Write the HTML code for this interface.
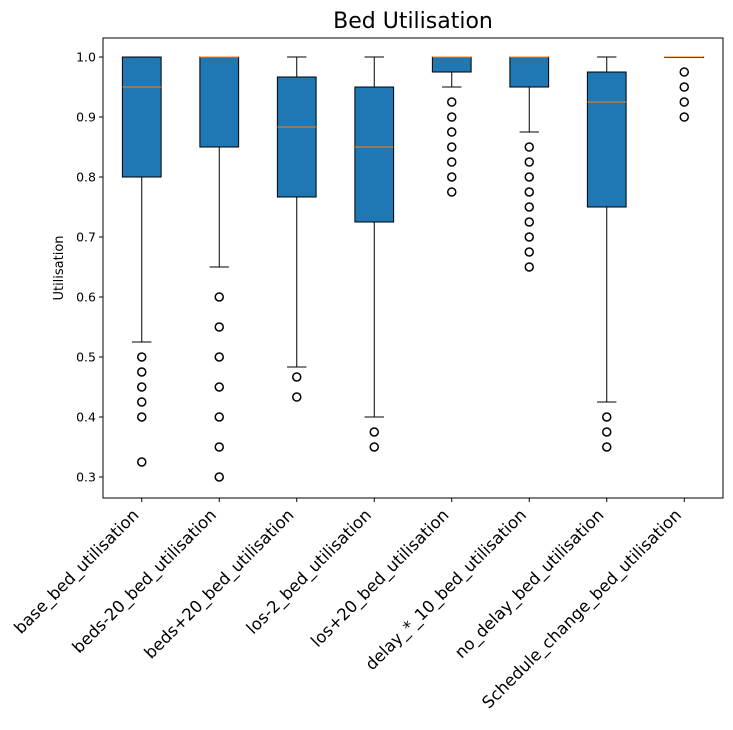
<!DOCTYPE html>
<html><head><meta charset="utf-8"><style>
body{margin:0;background:#fff}
svg text{font-family:"DejaVu Sans","Liberation Sans",sans-serif;fill:#000}
</style></head><body>
<svg id="chart" width="733" height="725" xmlns="http://www.w3.org/2000/svg">
<rect width="733" height="725" fill="#fff"/>
<text x="413" y="28" font-size="22" text-anchor="middle">Bed Utilisation</text>
<text transform="translate(63,268) rotate(-90)" font-size="13" text-anchor="middle">Utilisation</text>
<g id="plot"></g>
</svg>
<script>
const categories=["base_bed_utilisation","beds-20_bed_utilisation","beds+20_bed_utilisation","los-2_bed_utilisation","los+20_bed_utilisation","delay_*_10_bed_utilisation","no_delay_bed_utilisation","Schedule_change_bed_utilisation"];
const q1=[0.8,0.85,0.7667,0.725,0.975,0.95,0.75,1.0];
const medians=[0.95,1.0,0.8833,0.85,1.0,1.0,0.925,1.0];
const q3=[1.0,1.0,0.9667,0.95,1.0,1.0,0.975,1.0];
const whiskLow=[0.525,0.65,0.4833,0.4,0.95,0.875,0.425,1.0];
const whiskHigh=[1.0,1.0,1.0,1.0,1.0,1.0,1.0,1.0];
const outliers=[
 [0.5,0.475,0.45,0.425,0.4,0.325],
 [0.6,0.55,0.5,0.45,0.4,0.35,0.3],
 [0.4667,0.4333],
 [0.375,0.35],
 [0.925,0.9,0.875,0.85,0.825,0.8,0.775],
 [0.85,0.825,0.8,0.775,0.75,0.725,0.7,0.675,0.65],
 [0.4,0.375,0.35],
 [0.975,0.95,0.925,0.9]
];
const yTicks=[0.3,0.4,0.5,0.6,0.7,0.8,0.9,1.0];
const L=103,R=723,T=38,B=498;
const yMin=0.265,yMax=1.0317;
const y=v=>B-(v-yMin)/(yMax-yMin)*(B-T);
const x=i=>L+(i+0.5)*(R-L)/categories.length;
const unit=(R-L)/categories.length;
const NS="http://www.w3.org/2000/svg";
const g=document.getElementById('plot');
function mk(tag,attrs,parent){const e=document.createElementNS(NS,tag);for(const k in attrs)e.setAttribute(k,attrs[k]);(parent||g).appendChild(e);return e;}
yTicks.forEach(t=>{
 const ln=mk('line',{x1:L-4,x2:L,y1:y(t),y2:y(t),stroke:'#000','stroke-width':1});
 
 
 const tx=mk('text',{x:L-7,y:y(t)+4.5,'font-size':12.5,'text-anchor':'end'});
 tx.textContent=t.toFixed(1);
 
 
});
categories.forEach((c,i)=>{
 const cx=x(i),hw=unit*0.25,cw=unit*0.125;
 const grp=mk('g',{});
 
 
 mk('line',{x1:cx,x2:cx,y1:y(q1[i]),y2:y(whiskLow[i]),stroke:'#000','stroke-width':1},grp);
 mk('line',{x1:cx,x2:cx,y1:y(q3[i]),y2:y(whiskHigh[i]),stroke:'#000','stroke-width':1},grp);
 mk('line',{x1:cx-cw,x2:cx+cw,y1:y(whiskLow[i]),y2:y(whiskLow[i]),stroke:'#000','stroke-width':1},grp);
 mk('line',{x1:cx-cw,x2:cx+cw,y1:y(whiskHigh[i]),y2:y(whiskHigh[i]),stroke:'#000','stroke-width':1},grp);
 mk('rect',{x:cx-hw,y:y(q3[i]),width:2*hw,height:Math.max(0.5,y(q1[i])-y(q3[i])),fill:'#1f77b4',stroke:'#000','stroke-width':1},grp);
 mk('line',{x1:cx-hw,x2:cx+hw,y1:y(medians[i]),y2:y(medians[i]),stroke:'#ff7f0e','stroke-width':1},grp);
 outliers[i].forEach(v=>{
  const o=mk('circle',{cx:cx,cy:y(v),r:4,fill:'none',stroke:'#000','stroke-width':1.5},grp);
  
  
 });
 const tk=mk('line',{x1:cx,x2:cx,y1:B,y2:B+4,stroke:'#000','stroke-width':1});
 
 
 const tx=mk('text',{transform:`translate(${cx-2},${B+18}) rotate(-45)`,'font-size':16.5,'text-anchor':'end'});
 tx.textContent=c;
 
 
});
const fr=mk('rect',{x:L,y:T,width:R-L,height:B-T,fill:'none',stroke:'#000','stroke-width':1});


</script>
</body></html>
